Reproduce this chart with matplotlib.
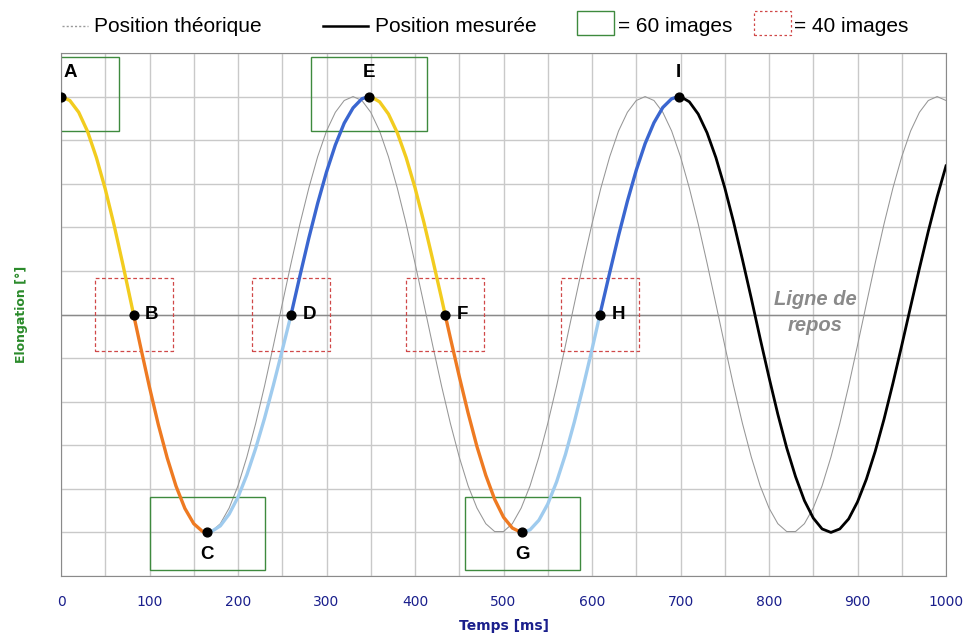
import numpy as np
import matplotlib.pyplot as plt
from matplotlib.lines import Line2D
from matplotlib.patches import Rectangle

# theoretical position, sampled every 10 ms
THEO_T = np.arange(0, 1001, 10)
THEO_Y = [
    5.00, 4.91, 4.64, 4.21, 3.62, 2.90, 2.08, 1.18, 0.24, -0.71, -1.64, -2.50, -3.27, -3.93, -4.44, -4.80, -4.98,
    -4.98, -4.80, -4.44, -3.93, -3.27, -2.50, -1.64, -0.71, 0.24, 1.18, 2.08, 2.90, 3.62, 4.21, 4.64, 4.91,
    5.00, 4.91, 4.64, 4.21, 3.62, 2.90, 2.08, 1.18, 0.24, -0.71, -1.64, -2.50, -3.27, -3.93, -4.44, -4.80, -4.98,
    -4.98, -4.80, -4.44, -3.93, -3.27, -2.50, -1.64, -0.71, 0.24, 1.18, 2.08, 2.90, 3.62, 4.21, 4.64, 4.91,
    5.00, 4.91, 4.64, 4.21, 3.62, 2.90, 2.08, 1.18, 0.24, -0.71, -1.64, -2.50, -3.27, -3.93, -4.44, -4.80, -4.98,
    -4.98, -4.80, -4.44, -3.93, -3.27, -2.50, -1.64, -0.71, 0.24, 1.18, 2.08, 2.90, 3.62, 4.21, 4.64, 4.91,
    5.00, 4.91,
]

MEAS_T = [0, 10, 20, 30, 40, 50, 60, 70, 80, 82,
          90, 100, 110, 120, 130, 140, 150, 160, 165,
          170, 180, 190, 200, 210, 220, 230, 240, 250, 260,
          270, 280, 290, 300, 310, 320, 330, 340, 348,
          350, 360, 370, 380, 390, 400, 410, 420, 430, 434,
          440, 450, 460, 470, 480, 490, 500, 510, 520, 521,
          530, 540, 550, 560, 570, 580, 590, 600, 609,
          610, 620, 630, 640, 650, 660, 670, 680, 690, 698,
          700, 710, 720, 730, 740, 750, 760, 770, 780, 790, 800, 810, 820, 830, 840, 850, 860, 870,
          880, 890, 900, 910, 920, 930, 940, 950, 960, 970, 980, 990, 1000]
MEAS_Y = [5.00, 4.91, 4.64, 4.20, 3.60, 2.88, 2.05, 1.14, 0.19, 0.00,
          -0.75, -1.67, -2.53, -3.29, -3.94, -4.45, -4.80, -4.98, -5.00,
          -4.98, -4.85, -4.58, -4.19, -3.68, -3.07, -2.38, -1.62, -0.82, 0.00,
          0.89, 1.75, 2.55, 3.27, 3.89, 4.39, 4.74, 4.95, 5.00,
          5.00, 4.88, 4.60, 4.17, 3.60, 2.91, 2.12, 1.26, 0.37, 0.00,
          -0.54, -1.42, -2.26, -3.03, -3.69, -4.24, -4.65, -4.90, -5.00, -5.00,
          -4.94, -4.72, -4.35, -3.84, -3.21, -2.47, -1.66, -0.80, 0.00,
          0.09, 0.96, 1.81, 2.60, 3.31, 3.92, 4.40, 4.75, 4.95, 5.00,
          5.00, 4.88, 4.60, 4.17, 3.60, 2.91, 2.12, 1.26, 0.37, -0.55, -1.44, -2.29, -3.06, -3.72, -4.27, -4.67, -4.92, -5.00,
          -4.92, -4.69, -4.30, -3.78, -3.14, -2.40, -1.58, -0.71, 0.18, 1.06, 1.91, 2.70, 3.41]

KEY_LABELS = ['A', 'B', 'C', 'D', 'E', 'F', 'G', 'H', 'I']
KEY_T = [0, 82, 165, 260, 348, 434, 521, 609, 698]
KEY_Y = [5, 0, -5, 0, 5, 0, -5, 0, 5]

YELLOW, ORANGE, LIGHTBLUE, BLUE = '#f2cc1f', '#ee7a22', '#9fcbee', '#3a66d0'
SEG_COLORS = [YELLOW, ORANGE, LIGHTBLUE, BLUE, YELLOW, ORANGE, LIGHTBLUE, BLUE]
GREEN_BOX = '#3e8a3e'
RED_BOX = '#d04848'
NAVY = '#1a1f8c'

fig = plt.figure(figsize=(9.65, 6.4), dpi=100)
ax = fig.add_axes([61 / 965, 64 / 640, 885 / 965, 523 / 640])

ax.set_xlim(0, 1000)
ax.set_ylim(-6, 6)
ax.set_xticks(np.arange(0, 1001, 100))
ax.set_xticks(np.arange(50, 1000, 100), minor=True)
ax.set_yticks(np.arange(-6, 7, 1))
ax.set_yticklabels([])
ax.tick_params(axis='both', which='both', length=0)
ax.tick_params(axis='x', pad=14, labelsize=10, labelcolor=NAVY)
ax.grid(True, which='both', color='#c9c9c9', lw=1)
ax.axhline(0, color='#8a8a8a', lw=1, zorder=1)
for s in ax.spines.values():
    s.set_color('#8a8a8a')
ax.set_axisbelow(True)

ax.set_xlabel('Temps [ms]', color=NAVY, fontsize=10, fontweight='bold', labelpad=7)
ax.set_ylabel('Elongation [°]', color='#2a8a2a', fontsize=9, fontweight='bold', labelpad=20)

# theoretical curve
ax.plot(THEO_T, THEO_Y, color='#969696', lw=0.75, zorder=2)

# measured curve, one colour per quarter period
mt = np.array(MEAS_T)
my = np.array(MEAS_Y)
for i, c in enumerate(SEG_COLORS):
    m = (mt >= KEY_T[i]) & (mt <= KEY_T[i + 1])
    ax.plot(mt[m], my[m], color=c, lw=2.4, zorder=3, solid_capstyle='round')
m = mt >= KEY_T[-1]
ax.plot(mt[m], my[m], color='black', lw=2, zorder=3)

# boxes around key points
for lbl, t, y in zip(KEY_LABELS, KEY_T, KEY_Y):
    if y == 0:
        ax.add_patch(Rectangle((t - 44, -0.84), 88, 1.68, fill=False, ec=RED_BOX,
                               lw=0.9, ls=(0, (3, 2)), zorder=2))
    elif lbl != 'I':
        y0 = y - 0.78 if y > 0 else y - 0.86
        ax.add_patch(Rectangle((t - 65, y0), 130, 1.68, fill=False, ec=GREEN_BOX,
                               lw=1, zorder=2))

ax.scatter(KEY_T, KEY_Y, s=40, color='black', zorder=5)
lbl_font = dict(fontsize=13.5, fontweight='bold', family='Liberation Sans', va='center', zorder=6)
for lbl, t, y in zip(KEY_LABELS, KEY_T, KEY_Y):
    if y == 0:
        ax.text(t + 13, y, lbl, ha='left', **lbl_font)
    elif y > 0:
        ax.text(t + 10 if lbl == 'A' else t, y + 0.55, lbl, ha='center', **lbl_font)
    else:
        ax.text(t, y - 0.5, lbl, ha='center', **lbl_font)

ax.text(852, 0.05, 'Ligne de\nrepos', color='#8a8a8a', fontsize=14.5, fontweight='bold',
        fontstyle='italic', family='Liberation Sans', ha='center', va='center',
        linespacing=1.45, zorder=6)

# legend drawn in figure pixels
def fx(px):
    return px / 965

def fy(py):
    return 1 - py / 640

leg_font = dict(fontsize=15, family='Liberation Sans', va='center', ha='left')
fig.add_artist(Line2D([fx(62), fx(88)], [fy(26), fy(26)], color='#999999', lw=1, ls=(0, (1.5, 1.5))))
fig.text(fx(94), fy(26), 'Position théorique', **leg_font)
fig.add_artist(Line2D([fx(323), fx(368)], [fy(26), fy(26)], color='black', lw=1.8))
fig.text(fx(375), fy(26), 'Position mesurée', **leg_font)
fig.add_artist(Rectangle((fx(577), fy(35)), fx(37), 24 / 640, fill=False, ec=GREEN_BOX, lw=1))
fig.text(fx(618), fy(26), '= 60 images', **leg_font)
fig.add_artist(Rectangle((fx(754), fy(35)), fx(37), 24 / 640, fill=False, ec=RED_BOX, lw=0.9,
                         ls=(0, (2, 2))))
fig.text(fx(794), fy(26), '= 40 images', **leg_font)

fig.savefig('out.png', dpi=100)
